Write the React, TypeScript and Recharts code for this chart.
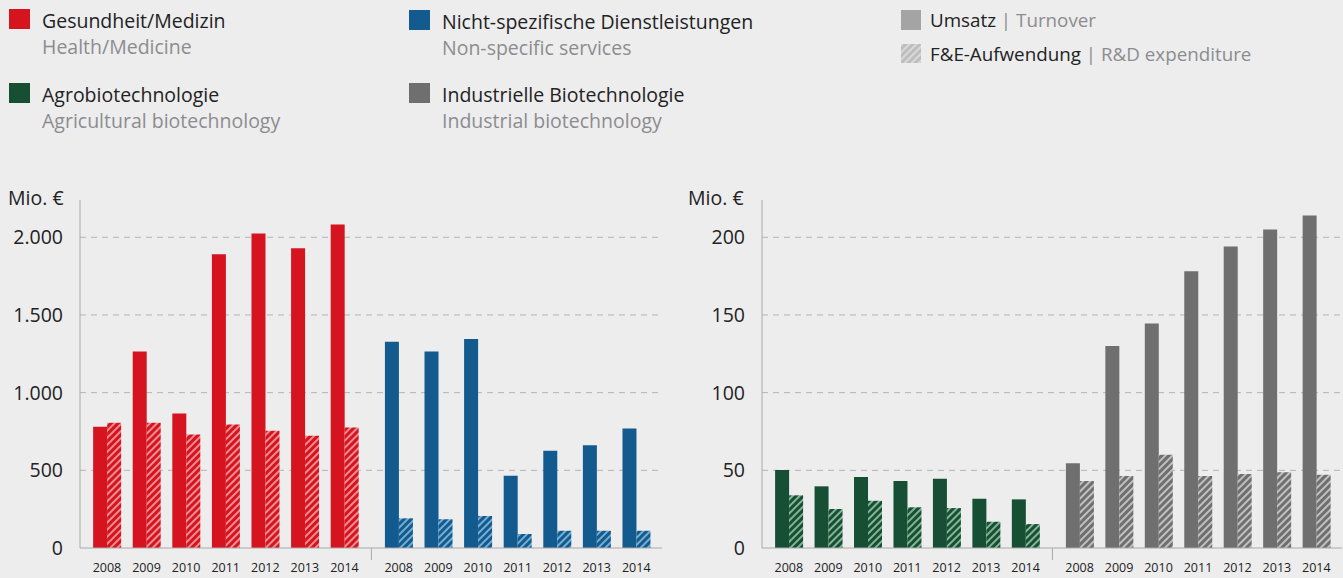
import { BarChart, Bar, XAxis, YAxis, CartesianGrid, Cell, ReferenceLine } from 'recharts';

// years shown under each group of bars
const years = ['2008', '2009', '2010', '2011', '2012', '2013', '2014'];

// Mio. € — left panel
const healthTurnover = [780, 1265, 866, 1891, 2024, 1929, 2082];
const healthRnd = [806, 806, 731, 795, 754, 722, 776];
const servicesTurnover = [1327, 1265, 1346, 465, 626, 662, 770];
const servicesRnd = [191, 185, 206, 90, 111, 111, 111];

// Mio. € — right panel
const agroTurnover = [50.2, 39.7, 45.7, 43.1, 44.6, 31.7, 31.3];
const agroRnd = [33.9, 25.1, 30.4, 26.2, 25.7, 16.9, 15.4];
const industrialTurnover = [54.5, 130.1, 144.5, 178.1, 194, 205, 214.1];
const industrialRnd = [43.1, 46.3, 60, 46.3, 47.6, 48.7, 47.1];

const leftTicks = [0, 500, 1000, 1500, 2000];
const rightTicks = [0, 50, 100, 150, 200];

const COLORS = {
  red: { solid: '#d6141f', light: '#f29a9c' },
  blue: { solid: '#135b8e', light: '#7fb6dc' },
  green: { solid: '#174f35', light: '#8fbf9f' },
  gray: { solid: '#6f6f70', light: '#c9c9ca' },
};
type ColorKey = keyof typeof COLORS;

const BG = '#ededee';
const FONT = '"Open Sans", sans-serif';

// second group sits a bit further right than a regular step
const GROUP_OFFSET = 7.37;
const SEPARATOR = 6.68;
const X_DOMAIN: [number, number] = [-0.68, 14.02];

function buildRows(t1: number[], r1: number[], c1: ColorKey, t2: number[], r2: number[], c2: ColorKey) {
  const a = years.map((y, i) => ({ pos: i, year: y, turnover: t1[i], rnd: r1[i], color: c1 }));
  const b = years.map((y, i) => ({ pos: i + GROUP_OFFSET, year: y, turnover: t2[i], rnd: r2[i], color: c2 }));
  return [...a, ...b];
}

const leftRows = buildRows(healthTurnover, healthRnd, 'red', servicesTurnover, servicesRnd, 'blue');
const rightRows = buildRows(agroTurnover, agroRnd, 'green', industrialTurnover, industrialRnd, 'gray');

function Hatches() {
  return (
    <defs>
      {(Object.keys(COLORS) as ColorKey[]).map((k) => (
        <pattern
          key={k}
          id={`hatch-${k}`}
          patternUnits="userSpaceOnUse"
          width="5"
          height="5"
          patternTransform="rotate(45)"
        >
          <rect width="5" height="5" fill={COLORS[k].solid} />
          <line x1="1" y1="0" x2="1" y2="5" stroke={COLORS[k].light} strokeWidth="1.8" />
        </pattern>
      ))}
    </defs>
  );
}

function Panel({ rows, max, ticks, left, yWidth }: { rows: typeof leftRows; max: number; ticks: number[]; left: number; yWidth: number }) {
  const fmt = (v: number) => v.toLocaleString('de-DE');
  const yearOf = (v: number) => {
    const row = rows.find((r) => Math.abs(r.pos - v) < 0.01);
    return row ? row.year : '';
  };
  return (
    <div style={{ position: 'absolute', left, top: 190 }}>
      <div
        style={{
          position: 'absolute',
          left: 8,
          top: -2,
          fontFamily: FONT,
          fontSize: 19.5,
          color: '#222',
          lineHeight: '20px',
          whiteSpace: 'nowrap',
        }}
      >
        Mio. €
      </div>
      <BarChart
        width={left === 0 ? 670 : 663}
        height={388}
        data={rows}
        margin={{ top: 10, right: left === 0 ? 8 : 1, left: 0, bottom: 0 }}
        barGap={0}
        barSize={14}
        style={{ fontFamily: FONT }}
      >
        <Hatches />
        <CartesianGrid vertical={false} stroke="#b4b4b6" strokeDasharray="6 5" horizontalValues={ticks.slice(1)} />
        <XAxis
          dataKey="pos"
          type="number"
          domain={X_DOMAIN}
          ticks={rows.map((r) => r.pos)}
          tickFormatter={yearOf}
          allowDataOverflow
          interval={0}
          height={30}
          tickLine={false}
          axisLine={{ stroke: '#a9a9ab' }}
          tickSize={0}
          tickMargin={15}
          tick={{ fill: '#222', fontSize: 12.5 }}
        />
        <YAxis
          domain={[0, max]}
          ticks={ticks}
          width={yWidth}
          allowDataOverflow
          tickLine={false}
          tickSize={0}
          tickMargin={17}
          axisLine={{ stroke: '#a9a9ab' }}
          tickFormatter={fmt}
          tick={{ fill: '#222', fontSize: 19.5 }}
        />
        <ReferenceLine
          segment={[
            { x: SEPARATOR, y: 0 },
            { x: SEPARATOR, y: (-12 * max) / 348 },
          ]}
          ifOverflow="visible"
          stroke="#a9a9ab"
        />
        <Bar dataKey="turnover" isAnimationActive={false}>
          {rows.map((r, i) => (
            <Cell key={i} fill={COLORS[r.color].solid} />
          ))}
        </Bar>
        <Bar dataKey="rnd" isAnimationActive={false}>
          {rows.map((r, i) => (
            <Cell key={i} fill={`url(#hatch-${r.color})`} />
          ))}
        </Bar>
      </BarChart>
    </div>
  );
}

function LegendEntry({ x, y, color, de, en }: { x: number; y: number; color: string; de: string; en: string }) {
  return (
    <>
      <div style={{ position: 'absolute', left: x, top: y, width: 21, height: 20, background: color }} />
      <div style={{ position: 'absolute', left: x + 33, top: y + 2, fontSize: 19.5, lineHeight: '19px', color: '#222', whiteSpace: 'nowrap' }}>
        {de}
      </div>
      <div style={{ position: 'absolute', left: x + 33, top: y + 28, fontSize: 19.5, lineHeight: '19px', color: '#8c8c8e', whiteSpace: 'nowrap' }}>
        {en}
      </div>
    </>
  );
}

export default function App() {
  return (
    <div
      style={{
        position: 'absolute',
        left: 0,
        top: 0,
        width: 1343,
        height: 578,
        background: BG,
        overflow: 'hidden',
        fontFamily: FONT,
      }}
    >
      <LegendEntry x={9} y={9} color={COLORS.red.solid} de="Gesundheit/Medizin" en="Health/Medicine" />
      <LegendEntry x={9} y={83} color={COLORS.green.solid} de="Agrobiotechnologie" en="Agricultural biotechnology" />
      <LegendEntry x={409} y={10} color={COLORS.blue.solid} de="Nicht-spezifische Dienstleistungen" en="Non-specific services" />
      <LegendEntry x={409} y={83} color={COLORS.gray.solid} de="Industrielle Biotechnologie" en="Industrial biotechnology" />

      <div style={{ position: 'absolute', left: 901, top: 10, width: 20, height: 20, background: '#a4a4a5' }} />
      <div style={{ position: 'absolute', left: 930, top: 11, fontSize: 18.8, lineHeight: '18px', whiteSpace: 'nowrap' }}>
        <span style={{ color: '#222' }}>Umsatz</span>
        <span style={{ color: '#8c8c8e' }}> | Turnover</span>
      </div>
      <svg style={{ position: 'absolute', left: 901, top: 44 }} width={20} height={19}>
        <defs>
          <pattern id="legend-hatch" patternUnits="userSpaceOnUse" width="5" height="5" patternTransform="rotate(45)">
            <rect width="5" height="5" fill="#bdbdbe" />
            <line x1="1" y1="0" x2="1" y2="5" stroke="#dcdcdd" strokeWidth="1.8" />
          </pattern>
        </defs>
        <rect width={20} height={19} fill="url(#legend-hatch)" />
      </svg>
      <div style={{ position: 'absolute', left: 930, top: 45, fontSize: 18.8, lineHeight: '18px', whiteSpace: 'nowrap' }}>
        <span style={{ color: '#222' }}>F&amp;E-Aufwendung</span>
        <span style={{ color: '#8c8c8e' }}> | R&amp;D expenditure</span>
      </div>

      <Panel rows={leftRows} max={2240} ticks={leftTicks} left={0} yWidth={80} />
      <Panel rows={rightRows} max={224} ticks={rightTicks} left={680} yWidth={82} />
    </div>
  );
}
